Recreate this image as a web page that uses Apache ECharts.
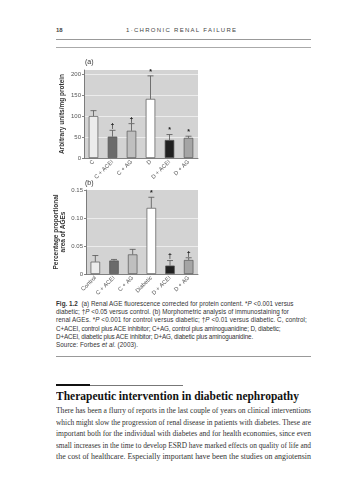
<!DOCTYPE html>
<html><head><meta charset="utf-8">
<script src="https://cdn.jsdelivr.net/npm/echarts@6/dist/echarts.min.js"></script>
<style>
html,body{margin:0;padding:0;background:#fff;width:357px;height:500px;overflow:hidden;}
#chart{position:absolute;left:0;top:0;width:357px;height:300px;}
.t{position:absolute;white-space:nowrap;color:#333;transform-origin:0 50%;}
.hdr{font-family:"Liberation Sans",sans-serif;font-size:6px;color:#444;}
.rule{position:absolute;left:56px;width:255px;}
.cap{font-family:"Liberation Sans",sans-serif;font-size:6.3px;color:#333;left:56px;}
.body{font-family:"Liberation Serif",serif;font-size:8px;color:#333;left:56px;}
</style></head>
<body>
<div class="t hdr" style="left:56px;top:27px;font-weight:bold;">18</div>
<div class="t hdr" style="left:126px;top:27px;letter-spacing:1.3px;">1·CHRONIC RENAL FAILURE</div>
<div class="rule" style="top:39px;height:0;border-top:0.8px solid #999;"></div>
<div class="rule" style="top:47px;height:0;border-top:1.5px solid #aaa;"></div>
<div id="chart"></div>
<div class="t cap" data-w="237.5" style="top:300px;"><b>Fig. 1.2</b>&nbsp; (a) Renal AGE fluorescence corrected for protein content. *<i>P</i> &lt;0.001 versus</div>
<div class="t cap" data-w="233" style="top:308.2px;">diabetic; †<i>P</i> &lt;0.05 versus control. (b) Morphometric analysis of immunostaining for</div>
<div class="t cap" data-w="251" style="top:316.4px;">renal AGEs. *<i>P</i> &lt;0.001 for control versus diabetic; †<i>P</i> &lt;0.01 versus diabetic. C, control;</div>
<div class="t cap" data-w="224.5" style="top:324.6px;">C+ACEI, control plus ACE inhibitor; C+AG, control plus aminoguanidine; D, diabetic;</div>
<div class="t cap" data-w="197" style="top:332.8px;">D+ACEI, diabetic plus ACE inhibitor; D+AG, diabetic plus aminoguanidine.</div>
<div class="t cap" data-w="82" style="top:341px;">Source: Forbes <i>et al.</i> (2003).</div>
<div class="rule" style="top:356px;height:0;border-top:1px solid #999;"></div>
<div style="position:absolute;left:56px;top:384px;width:34px;height:2px;background:#111;"></div>
<div style="position:absolute;left:90px;top:384.5px;width:93px;height:0;border-top:0.8px solid #777;"></div>
<div class="t fitS" data-w="243" style="left:56px;top:389px;font-family:'Liberation Serif',serif;font-weight:bold;font-size:12px;color:#111;">Therapeutic intervention in diabetic nephropathy</div>
<div class="t body fitJ" data-w="255" style="top:406px;">There has been a flurry of reports in the last couple of years on clinical interventions</div>
<div class="t body fitJ" data-w="255" style="top:417.5px;">which might slow the progression of renal disease in patients with diabetes. These are</div>
<div class="t body fitJ" data-w="255" style="top:429px;">important both for the individual with diabetes and for health economies, since even</div>
<div class="t body fitJ" data-w="255" style="top:440.5px;">small increases in the time to develop ESRD have marked effects on quality of life and</div>
<div class="t body fitJ" data-w="255" style="top:452px;">the cost of healthcare. Especially important have been the studies on angiotensin</div>
<script>
const catsA = ['C', 'C + ACEI', 'C + AG', 'D', 'D + ACEI', 'D + AG'];
const meanA = [100, 51, 65, 141, 43, 48];
const errA = [13, 15, 17, 55, 13, 4];
const sigA = ['', '†', '†', '*', '*', '*'];
const catsB = ['Control', 'C + ACEI', 'C + AG', 'Diabetic', 'D + ACEI', 'D + AG'];
const meanB = [0.022, 0.024, 0.035, 0.118, 0.015, 0.025];
const errB = [0.011, 0.002, 0.009, 0.019, 0.009, 0.004];
const sigB = ['', '', '', '*', '†', '†'];
const barColors = ['#ececec', '#6b6b6b', '#bfbfbf', '#ffffff', '#202020', '#a5a5a5'];

// fit text lines to reference widths
document.querySelectorAll('.cap').forEach(el => {
  const w = el.getBoundingClientRect().width, n = el.textContent.length;
  el.style.letterSpacing = ((parseFloat(el.dataset.w) - w) / n) + 'px';
});
document.querySelectorAll('.fitS').forEach(el => {
  const w = el.getBoundingClientRect().width;
  el.style.transform = 'scaleX(' + (parseFloat(el.dataset.w) / w) + ')';
});
document.querySelectorAll('.fitJ').forEach(el => {
  const target = parseFloat(el.dataset.w);
  const w = el.getBoundingClientRect().width;
  if (w > target) {
    el.style.transform = 'scaleX(' + (target / w) + ')';
  } else {
    const sp = (el.textContent.match(/ /g) || []).length;
    el.style.wordSpacing = ((target - w) / sp) + 'px';
  }
});

const chart = echarts.init(document.getElementById('chart'), null, {renderer: 'canvas'});
const FONT = 'Liberation Sans';

function yAxis(gi, max, interval, showMax, name, gap, fmt) {
  return {
    type: 'value', gridIndex: gi, min: 0, max: max, interval: interval,
    name: name, nameLocation: 'middle', nameGap: gap, nameRotate: 90,
    nameTextStyle: {fontFamily: FONT, fontSize: 6.5, fontWeight: 'bold', color: '#333', lineHeight: 7.5},
    axisLine: {show: true, lineStyle: {color: '#666', width: 0.8}},
    axisTick: {show: true, length: 2, lineStyle: {color: '#666', width: 0.8}},
    axisLabel: {fontFamily: FONT, fontSize: 6, color: '#555', margin: 3, showMaxLabel: showMax, formatter: fmt},
    splitLine: {show: true, showMaxLine: false, lineStyle: {color: '#ececec', width: 1}}
  };
}
function xAxis(gi, cats) {
  return {
    type: 'category', gridIndex: gi, data: cats,
    axisLine: {show: true, lineStyle: {color: '#666', width: 0.8}},
    axisTick: {show: false},
    axisLabel: {interval: 0, rotate: 45, fontFamily: FONT, fontSize: 5.8, color: '#555', margin: 3}
  };
}
function bars(gi, means) {
  return {
    type: 'bar', xAxisIndex: gi, yAxisIndex: gi, barWidth: 9.5, z: 2,
    data: means.map((v, i) => ({value: v, itemStyle: {color: barColors[i], borderColor: '#555', borderWidth: 0.7}}))
  };
}
function errs(gi, means, es, sigs) {
  return {
    type: 'custom', xAxisIndex: gi, yAxisIndex: gi, z: 5,
    encode: {x: 0, y: [1, 2]},
    data: means.map((m, i) => [i, m, m + es[i]]),
    renderItem: function (params, api) {
      const i = api.value(0);
      const p0 = api.coord([i, api.value(1)]);
      const p1 = api.coord([i, api.value(2)]);
      const st = {stroke: '#555', lineWidth: 0.8};
      const ch = [
        {type: 'line', shape: {x1: p0[0], y1: p0[1], x2: p1[0], y2: p1[1]}, style: st},
        {type: 'line', shape: {x1: p1[0] - 3, y1: p1[1], x2: p1[0] + 3, y2: p1[1]}, style: st}
      ];
      const s = sigs[params.dataIndex];
      if (s) ch.push({type: 'text', style: {text: s, x: p1[0], y: p1[1] - 0.5, align: 'center', verticalAlign: 'bottom', font: 'bold 7px "Liberation Sans"', fill: '#222'}});
      return {type: 'group', children: ch};
    }
  };
}

chart.setOption({
  animation: false,
  grid: [
    {left: 84, top: 70, width: 114, height: 88, show: true, backgroundColor: '#d3d3d3', borderWidth: 0},
    {left: 86, top: 190, width: 112, height: 84, show: true, backgroundColor: '#d3d3d3', borderWidth: 0}
  ],
  xAxis: [xAxis(0, catsA), xAxis(1, catsB)],
  yAxis: [
    yAxis(0, 210, 50, false, 'Arbitrary units/mg protein', 18, v => String(v)),
    yAxis(1, 0.15, 0.05, true, 'Percentage proportional\narea of AGEs', 18, v => v === 0 ? '0' : v.toFixed(2))
  ],
  graphic: [
    {type: 'text', left: 85, top: 59, style: {text: '(a)', font: '7px "Liberation Sans"', fill: '#333'}},
    {type: 'text', left: 85, top: 180, style: {text: '(b)', font: '7px "Liberation Sans"', fill: '#333'}}
  ],
  series: [bars(0, meanA), errs(0, meanA, errA, sigA), bars(1, meanB), errs(1, meanB, errB, sigB)]
});
</script>
</body></html>
